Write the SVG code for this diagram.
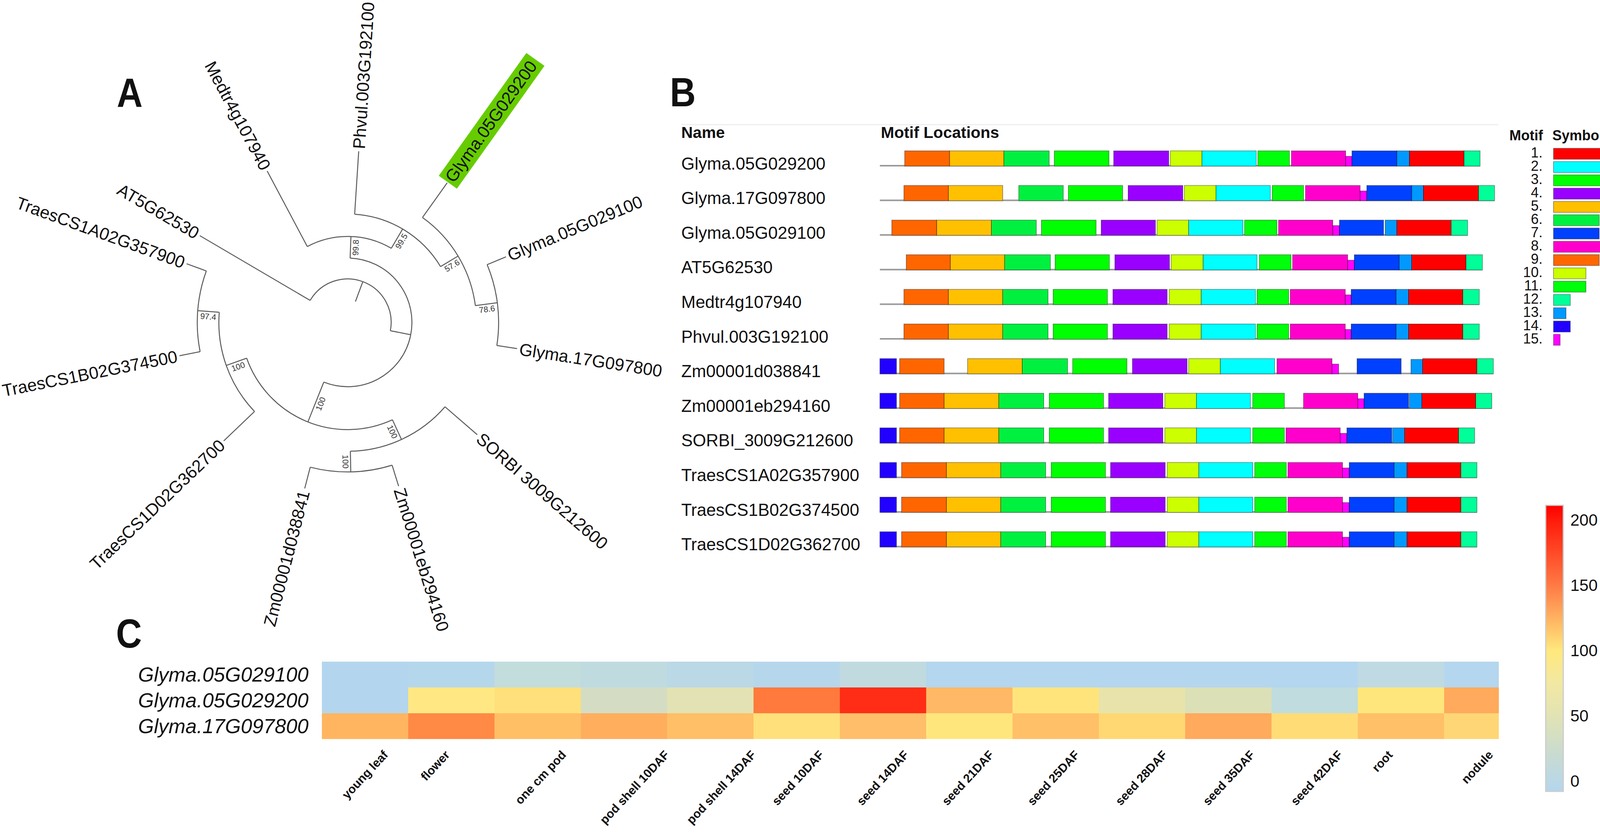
<svg xmlns="http://www.w3.org/2000/svg" width="4137" height="2134" viewBox="0 0 4137 2134">
<defs>
<linearGradient id="cbar" x1="0" y1="0" x2="0" y2="1">
<stop offset="0" stop-color="#FF0000"/>
<stop offset="0.05" stop-color="#FF1A0A"/>
<stop offset="0.28" stop-color="#FF7A45"/>
<stop offset="0.39" stop-color="#FFB060"/>
<stop offset="0.507" stop-color="#FFE87C"/>
<stop offset="0.62" stop-color="#F2E8A2"/>
<stop offset="0.735" stop-color="#E2E3B4"/>
<stop offset="0.85" stop-color="#CCDCCC"/>
<stop offset="1" stop-color="#B4D6EE"/>
</linearGradient>
</defs>
<style>
text{font-family:"Liberation Sans",Arial,sans-serif;fill:#111}
.panel{font-weight:bold;font-size:104px}
.br{fill:none;stroke:#5a5a5a;stroke-width:2.5}
.leaf{font-size:44px}
.sup{font-size:21px;fill:#333}
.nm{font-size:44px}
.hd{font-size:41px;font-weight:bold}
.bb{fill:#9a9a9a}
.mb rect{stroke:#000;stroke-opacity:0.35;stroke-width:2}
.m1{fill:#FF0000}.m2{fill:#00FFFF}.m3{fill:#00FF00}.m4{fill:#9900FF}.m5{fill:#FFC000}
.m6{fill:#00F040}.m7{fill:#0040FF}.m8{fill:#FF00CC}.m9{fill:#FF6600}.m10{fill:#CCFF00}
.m11{fill:#00FF0A}.m12{fill:#00FF99}.m13{fill:#0099FF}.m14{fill:#2200FF}.m15{fill:#FF00FF}
.lgn{font-size:36px;text-anchor:end}
.lgh{font-size:36px;font-weight:bold}
.rl{font-size:52px;font-style:italic;text-anchor:end}
.cl{font-size:31px;font-weight:bold;text-anchor:end}
.cb{font-size:42px}
</style>
<rect width="4137" height="2134" fill="#fff"/>

<!-- panel letters -->
<text class="panel" transform="translate(299,273) scale(0.88,1)">A</text>
<text class="panel" transform="translate(1715,272) scale(0.88,1)">B</text>
<text class="panel" transform="translate(297,1657) scale(0.88,1)">C</text>

<!-- ===== Panel A: tree ===== -->
<g id="tree-branches">
<path class="br" d="M909.9,771.6 L928.8,720.7"/>
<path class="br" d="M794.0,768.7 A111.3,111.3 0 0 1 999.3,846.2"/>
<path class="br" d="M794.0,768.7 L511.5,603.0"/>
<path class="br" d="M999.3,846.2 L1051.5,856.4"/>
<path class="br" d="M896.3,660.6 A164.5,164.5 0 1 1 828.9,977.7"/>
<path class="br" d="M896.3,660.6 L898.4,605.2"/>
<path class="br" d="M786.7,630.8 A220,220 0 0 1 1001.7,635.4"/>
<path class="br" d="M786.7,630.8 L684.0,437.6"/>
<path class="br" d="M1001.7,635.4 L1030.8,586.0"/>
<path class="br" d="M907.9,548.2 A277.4,277.4 0 0 1 1127.8,682.1"/>
<path class="br" d="M907.9,548.2 L918.3,387.1"/>
<path class="br" d="M1127.8,682.1 L1172.6,655.2"/>
<path class="br" d="M1081.5,556.6 A329.7,329.7 0 0 1 1216.9,782.0"/>
<path class="br" d="M1081.5,556.6 L1144.8,467.8"/>
<path class="br" d="M1216.9,782.0 L1273.2,774.6"/>
<path class="br" d="M1247.1,677.1 A386.5,386.5 0 0 1 1271.9,884.1"/>
<path class="br" d="M1247.1,677.1 L1295.4,657.1"/>
<path class="br" d="M1271.9,884.1 L1323.6,892.1"/>
<path class="br" d="M828.9,977.7 L788.2,1079.6"/>
<path class="br" d="M1004.6,1074.1 A274.2,274.2 0 0 1 631.5,916.5"/>
<path class="br" d="M631.5,916.5 L579.2,935.1"/>
<path class="br" d="M651.6,1052.8 A329.7,329.7 0 0 1 561.3,799.1"/>
<path class="br" d="M651.6,1052.8 L572.8,1128.2"/>
<path class="br" d="M561.3,799.1 L506.2,794.8"/>
<path class="br" d="M512.3,899.8 A385,385 0 0 1 528.2,693.3"/>
<path class="br" d="M512.3,899.8 L459.5,910.2"/>
<path class="br" d="M528.2,693.3 L477.7,674.9"/>
<path class="br" d="M1004.6,1074.1 L1027.8,1124.5"/>
<path class="br" d="M1139.2,1040.9 A329.7,329.7 0 0 1 896.9,1154.6"/>
<path class="br" d="M1139.2,1040.9 L1221.7,1112.3"/>
<path class="br" d="M896.9,1154.6 L898.0,1207.5"/>
<path class="br" d="M1003.8,1190.3 A382.6,382.6 0 0 1 794.2,1195.4"/>
<path class="br" d="M1003.8,1190.3 L1020.5,1244.0"/>
<path class="br" d="M794.2,1195.4 L780.1,1249.8"/>
</g>

<g id="tree-support">
<text class="sup" text-anchor="middle" dy="0.35em" transform="translate(890,825) rotate(-87.8) translate(192,13)">99.8</text>
<text class="sup" text-anchor="middle" dy="0.35em" transform="translate(890,825) rotate(-59.5) translate(249,13)">99.5</text>
<text class="sup" text-anchor="middle" dy="0.35em" transform="translate(890,825) rotate(-31) translate(304,13)">57.6</text>
<text class="sup" text-anchor="middle" dy="0.35em" transform="translate(890,825) rotate(-7.5) translate(358,13)">78.6</text>
<text class="sup" text-anchor="middle" dy="0.35em" transform="translate(890,825) rotate(111.8) translate(219,0) rotate(180) translate(0,13)">100</text>
<text class="sup" text-anchor="middle" dy="0.35em" transform="translate(890,825) rotate(160.5) translate(302,0) rotate(180) translate(0,13)">100</text>
<text class="sup" text-anchor="middle" dy="0.35em" transform="translate(890,825) rotate(184.5) translate(357,0) rotate(180) translate(0,13)">97.4</text>
<text class="sup" text-anchor="middle" dy="0.35em" transform="translate(890,825) rotate(65.3) translate(302,13)">100</text>
<text class="sup" text-anchor="middle" dy="0.35em" transform="translate(890,825) rotate(88.8) translate(356,13)">100</text>
</g>

<g id="leaf-Medtr4g107940"><text class="leaf" text-anchor="end" dy="0.35em" transform="translate(890,825) rotate(-118) translate(445,0) rotate(180)">Medtr4g107940</text></g>
<g id="leaf-Phvul"><text class="leaf" dy="0.35em" transform="translate(890,825) rotate(-86.3) translate(445,0)">Phvul.003G192100</text></g>
<g id="leaf-Glyma05G029200">
<rect x="441" y="-28" width="386" height="57" fill="#66CC00" transform="translate(890,825) rotate(-54.5)"/>
<text class="leaf" dy="0.35em" transform="translate(890,825) rotate(-54.5) translate(447,0)">Glyma.05G029200</text></g>
<g id="leaf-Glyma05G029100"><text class="leaf" dy="0.35em" transform="translate(890,825) rotate(-22.5) translate(445,0)">Glyma.05G029100</text></g>
<g id="leaf-Glyma17G097800"><text class="leaf" dy="0.35em" transform="translate(890,825) rotate(8.8) translate(445,0)">Glyma.17G097800</text></g>
<g id="leaf-SORBI"><text class="leaf" dy="0.35em" transform="translate(890,825) rotate(40.9) translate(445,0)">SORBI 3009G212600</text></g>
<g id="leaf-Zm00001eb294160"><text class="leaf" dy="0.35em" transform="translate(890,825) rotate(72.7) translate(445,0)">Zm00001eb294160</text></g>
<g id="leaf-Zm00001d038841"><text class="leaf" text-anchor="end" dy="0.35em" transform="translate(890,825) rotate(104.5) translate(445,0) rotate(180)">Zm00001d038841</text></g>
<g id="leaf-TraesCS1D02G362700"><text class="leaf" text-anchor="end" dy="0.35em" transform="translate(890,825) rotate(136.3) translate(445,0) rotate(180)">TraesCS1D02G362700</text></g>
<g id="leaf-TraesCS1B02G374500"><text class="leaf" text-anchor="end" dy="0.35em" transform="translate(890,825) rotate(168.8) translate(445,0) rotate(180)">TraesCS1B02G374500</text></g>
<g id="leaf-TraesCS1A02G357900"><text class="leaf" text-anchor="end" dy="0.35em" transform="translate(890,825) rotate(200) translate(445,0) rotate(180)">TraesCS1A02G357900</text></g>
<g id="leaf-AT5G62530"><text class="leaf" text-anchor="end" dy="0.35em" transform="translate(890,825) rotate(210.4) translate(445,0) rotate(180)">AT5G62530</text></g>

<!-- ===== Panel B: motifs ===== -->
<g id="motif-header">
<line x1="1744" y1="319" x2="3836" y2="319" stroke="#eeeeee" stroke-width="3"/>
<text class="hd" x="1744" y="353">Name</text>
<text class="hd" x="2255" y="353">Motif Locations</text>
</g>

<g id="row-Glyma05G029200" transform="translate(0,386)">
<text class="nm" x="1744" y="47.5">Glyma.05G029200</text>
<rect class="bb" x="2252.5" y="36" width="1536.5" height="4"/>
<g class="mb">
<rect class="m9" x="2316" y="0" width="115" height="39"/><rect class="m5" x="2431" y="0" width="139" height="39"/><rect class="m6" x="2570" y="0" width="116" height="39"/><rect class="m3" x="2699" y="0" width="140" height="39"/><rect class="m4" x="2851" y="0" width="141" height="39"/><rect class="m10" x="2996" y="0" width="81" height="39"/><rect class="m2" x="3077" y="0" width="139" height="39"/><rect class="m11" x="3220" y="0" width="81" height="39"/><rect class="m8" x="3306" y="0" width="139" height="39"/><rect class="m15" x="3445" y="14" width="16" height="25"/><rect class="m7" x="3461" y="0" width="115" height="39"/><rect class="m13" x="3576" y="0" width="32" height="39"/><rect class="m1" x="3608" y="0" width="140" height="39"/><rect class="m12" x="3748" y="0" width="41" height="39"/>
</g></g>

<g id="row-Glyma17G097800" transform="translate(0,474.6)">
<text class="nm" x="1744" y="47.5">Glyma.17G097800</text>
<rect class="bb" x="2252.5" y="36" width="1573.5" height="4"/>
<g class="mb">
<rect class="m9" x="2314" y="0" width="114" height="39"/><rect class="m5" x="2428" y="0" width="139" height="39"/><rect class="m6" x="2608" y="0" width="114" height="39"/><rect class="m3" x="2735" y="0" width="139" height="39"/><rect class="m4" x="2888" y="0" width="140" height="39"/><rect class="m10" x="3032" y="0" width="81" height="39"/><rect class="m2" x="3113" y="0" width="139" height="39"/><rect class="m11" x="3257" y="0" width="80" height="39"/><rect class="m8" x="3342" y="0" width="140" height="39"/><rect class="m15" x="3482" y="14" width="17" height="25"/><rect class="m7" x="3499" y="0" width="115" height="39"/><rect class="m13" x="3614" y="0" width="30" height="39"/><rect class="m1" x="3644" y="0" width="141" height="39"/><rect class="m12" x="3785" y="0" width="41" height="39"/>
</g></g>

<g id="row-Glyma05G029100" transform="translate(0,563.2)">
<text class="nm" x="1744" y="47.5">Glyma.05G029100</text>
<rect class="bb" x="2252.5" y="36" width="1504.5" height="4"/>
<g class="mb">
<rect class="m9" x="2283" y="0" width="115" height="39"/><rect class="m5" x="2398" y="0" width="140" height="39"/><rect class="m6" x="2538" y="0" width="115" height="39"/><rect class="m3" x="2666" y="0" width="140" height="39"/><rect class="m4" x="2819" y="0" width="139" height="39"/><rect class="m10" x="2962" y="0" width="81" height="39"/><rect class="m2" x="3043" y="0" width="139" height="39"/><rect class="m11" x="3186" y="0" width="83" height="39"/><rect class="m8" x="3273" y="0" width="139" height="39"/><rect class="m15" x="3412" y="14" width="17" height="25"/><rect class="m7" x="3429" y="0" width="113" height="39"/><rect class="m13" x="3546" y="0" width="30" height="39"/><rect class="m1" x="3576" y="0" width="139" height="39"/><rect class="m12" x="3715" y="0" width="42" height="39"/>
</g></g>

<g id="row-AT5G62530" transform="translate(0,651.8)">
<text class="nm" x="1744" y="47.5">AT5G62530</text>
<rect class="bb" x="2252.5" y="36" width="1542.5" height="4"/>
<g class="mb">
<rect class="m9" x="2320" y="0" width="113" height="39"/><rect class="m5" x="2433" y="0" width="139" height="39"/><rect class="m6" x="2572" y="0" width="117" height="39"/><rect class="m3" x="2701" y="0" width="139" height="39"/><rect class="m4" x="2854" y="0" width="140" height="39"/><rect class="m10" x="2998" y="0" width="82" height="39"/><rect class="m2" x="3080" y="0" width="138" height="39"/><rect class="m11" x="3224" y="0" width="81" height="39"/><rect class="m8" x="3309" y="0" width="141" height="39"/><rect class="m15" x="3450" y="14" width="17" height="25"/><rect class="m7" x="3467" y="0" width="115" height="39"/><rect class="m13" x="3582" y="0" width="32" height="39"/><rect class="m1" x="3614" y="0" width="139" height="39"/><rect class="m12" x="3753" y="0" width="42" height="39"/>
</g></g>

<g id="row-Medtr4g107940" transform="translate(0,740.4)">
<text class="nm" x="1744" y="47.5">Medtr4g107940</text>
<rect class="bb" x="2252.5" y="36" width="1534.5" height="4"/>
<g class="mb">
<rect class="m9" x="2314" y="0" width="114" height="39"/><rect class="m5" x="2428" y="0" width="139" height="39"/><rect class="m6" x="2567" y="0" width="116" height="39"/><rect class="m3" x="2696" y="0" width="139" height="39"/><rect class="m4" x="2849" y="0" width="139" height="39"/><rect class="m10" x="2993" y="0" width="82" height="39"/><rect class="m2" x="3075" y="0" width="139" height="39"/><rect class="m11" x="3218" y="0" width="81" height="39"/><rect class="m8" x="3303" y="0" width="141" height="39"/><rect class="m15" x="3444" y="14" width="15" height="25"/><rect class="m7" x="3459" y="0" width="115" height="39"/><rect class="m13" x="3574" y="0" width="32" height="39"/><rect class="m1" x="3606" y="0" width="139" height="39"/><rect class="m12" x="3745" y="0" width="42" height="39"/>
</g></g>

<g id="row-Phvul003G192100" transform="translate(0,829)">
<text class="nm" x="1744" y="47.5">Phvul.003G192100</text>
<rect class="bb" x="2252.5" y="36" width="1534.5" height="4"/>
<g class="mb">
<rect class="m9" x="2314" y="0" width="114" height="39"/><rect class="m5" x="2428" y="0" width="139" height="39"/><rect class="m6" x="2567" y="0" width="116" height="39"/><rect class="m3" x="2696" y="0" width="139" height="39"/><rect class="m4" x="2849" y="0" width="139" height="39"/><rect class="m10" x="2993" y="0" width="82" height="39"/><rect class="m2" x="3075" y="0" width="139" height="39"/><rect class="m11" x="3218" y="0" width="81" height="39"/><rect class="m8" x="3303" y="0" width="141" height="39"/><rect class="m15" x="3444" y="14" width="15" height="25"/><rect class="m7" x="3459" y="0" width="115" height="39"/><rect class="m13" x="3574" y="0" width="32" height="39"/><rect class="m1" x="3606" y="0" width="139" height="39"/><rect class="m12" x="3745" y="0" width="42" height="39"/>
</g></g>

<g id="row-Zm00001d038841" transform="translate(0,917.6)">
<text class="nm" x="1744" y="47.5">Zm00001d038841</text>
<rect class="bb" x="2252.5" y="36" width="1570.5" height="4"/>
<g class="mb">
<rect class="m14" x="2252.5" y="0" width="42.5" height="39"/><rect class="m9" x="2303" y="0" width="114" height="39"/><rect class="m5" x="2477" y="0" width="140" height="39"/><rect class="m6" x="2617" y="0" width="116" height="39"/><rect class="m3" x="2746" y="0" width="139" height="39"/><rect class="m4" x="2899" y="0" width="140" height="39"/><rect class="m10" x="3043" y="0" width="81" height="39"/><rect class="m2" x="3124" y="0" width="139" height="39"/><rect class="m8" x="3269" y="0" width="141" height="39"/><rect class="m15" x="3410" y="14" width="17" height="25"/><rect class="m7" x="3474" y="0" width="113" height="39"/><rect class="m13" x="3612" y="2" width="30" height="37"/><rect class="m1" x="3642" y="0" width="139" height="39"/><rect class="m12" x="3781" y="0" width="42" height="39"/>
</g></g>

<g id="row-Zm00001eb294160" transform="translate(0,1006.2)">
<text class="nm" x="1744" y="47.5">Zm00001eb294160</text>
<rect class="bb" x="2252.5" y="36" width="1566.5" height="4"/>
<g class="mb">
<rect class="m14" x="2252.5" y="0" width="42.5" height="39"/><rect class="m9" x="2303" y="0" width="114" height="39"/><rect class="m5" x="2417" y="0" width="140" height="39"/><rect class="m6" x="2557" y="0" width="115" height="39"/><rect class="m3" x="2686" y="0" width="139" height="39"/><rect class="m4" x="2838" y="0" width="139" height="39"/><rect class="m10" x="2982" y="0" width="81" height="39"/><rect class="m2" x="3063" y="0" width="138" height="39"/><rect class="m11" x="3207" y="0" width="81" height="39"/><rect class="m8" x="3337" y="0" width="139" height="39"/><rect class="m15" x="3476" y="14" width="16" height="25"/><rect class="m7" x="3492" y="0" width="114" height="39"/><rect class="m13" x="3608" y="0" width="32" height="39"/><rect class="m1" x="3640" y="0" width="138" height="39"/><rect class="m12" x="3778" y="0" width="41" height="39"/>
</g></g>

<g id="row-SORBI_3009G212600" transform="translate(0,1094.8)">
<text class="nm" x="1744" y="47.5">SORBI_3009G212600</text>
<rect class="bb" x="2252.5" y="36" width="1522.5" height="4"/>
<g class="mb">
<rect class="m14" x="2252.5" y="0" width="42.5" height="39"/><rect class="m9" x="2303" y="0" width="114" height="39"/><rect class="m5" x="2417" y="0" width="140" height="39"/><rect class="m6" x="2557" y="0" width="115" height="39"/><rect class="m3" x="2686" y="0" width="139" height="39"/><rect class="m4" x="2838" y="0" width="139" height="39"/><rect class="m10" x="2982" y="0" width="81" height="39"/><rect class="m2" x="3063" y="0" width="138" height="39"/><rect class="m11" x="3207" y="0" width="81" height="39"/><rect class="m8" x="3292" y="0" width="139" height="39"/><rect class="m15" x="3431" y="14" width="17" height="25"/><rect class="m7" x="3448" y="0" width="115" height="39"/><rect class="m13" x="3565" y="0" width="31" height="39"/><rect class="m1" x="3596" y="0" width="138" height="39"/><rect class="m12" x="3734" y="0" width="41" height="39"/>
</g></g>

<g id="row-TraesCS1A02G357900" transform="translate(0,1183.4)">
<text class="nm" x="1744" y="47.5">TraesCS1A02G357900</text>
<rect class="bb" x="2252.5" y="36" width="1528.5" height="4"/>
<g class="mb">
<rect class="m14" x="2252.5" y="0" width="42.5" height="39"/><rect class="m9" x="2308" y="0" width="115" height="39"/><rect class="m5" x="2423" y="0" width="139" height="39"/><rect class="m6" x="2562" y="0" width="115" height="39"/><rect class="m3" x="2691" y="0" width="139" height="39"/><rect class="m4" x="2843" y="0" width="140" height="39"/><rect class="m10" x="2988" y="0" width="81" height="39"/><rect class="m2" x="3069" y="0" width="138" height="39"/><rect class="m11" x="3212" y="0" width="81" height="39"/><rect class="m8" x="3297" y="0" width="140" height="39"/><rect class="m15" x="3437" y="14" width="17" height="25"/><rect class="m7" x="3454" y="0" width="115" height="39"/><rect class="m13" x="3569" y="0" width="33" height="39"/><rect class="m1" x="3602" y="0" width="138" height="39"/><rect class="m12" x="3740" y="0" width="41" height="39"/>
</g></g>

<g id="row-TraesCS1B02G374500" transform="translate(0,1272)">
<text class="nm" x="1744" y="47.5">TraesCS1B02G374500</text>
<rect class="bb" x="2252.5" y="36" width="1528.5" height="4"/>
<g class="mb">
<rect class="m14" x="2252.5" y="0" width="42.5" height="39"/><rect class="m9" x="2308" y="0" width="115" height="39"/><rect class="m5" x="2423" y="0" width="139" height="39"/><rect class="m6" x="2562" y="0" width="115" height="39"/><rect class="m3" x="2691" y="0" width="139" height="39"/><rect class="m4" x="2843" y="0" width="140" height="39"/><rect class="m10" x="2988" y="0" width="81" height="39"/><rect class="m2" x="3069" y="0" width="138" height="39"/><rect class="m11" x="3212" y="0" width="81" height="39"/><rect class="m8" x="3297" y="0" width="140" height="39"/><rect class="m15" x="3437" y="14" width="17" height="25"/><rect class="m7" x="3454" y="0" width="115" height="39"/><rect class="m13" x="3569" y="0" width="33" height="39"/><rect class="m1" x="3602" y="0" width="138" height="39"/><rect class="m12" x="3740" y="0" width="41" height="39"/>
</g></g>

<g id="row-TraesCS1D02G362700" transform="translate(0,1360.6)">
<text class="nm" x="1744" y="47.5">TraesCS1D02G362700</text>
<rect class="bb" x="2252.5" y="36" width="1528.5" height="4"/>
<g class="mb">
<rect class="m14" x="2252.5" y="0" width="42.5" height="39"/><rect class="m9" x="2308" y="0" width="115" height="39"/><rect class="m5" x="2423" y="0" width="139" height="39"/><rect class="m6" x="2562" y="0" width="115" height="39"/><rect class="m3" x="2691" y="0" width="139" height="39"/><rect class="m4" x="2843" y="0" width="140" height="39"/><rect class="m10" x="2988" y="0" width="81" height="39"/><rect class="m2" x="3069" y="0" width="138" height="39"/><rect class="m11" x="3212" y="0" width="81" height="39"/><rect class="m8" x="3297" y="0" width="140" height="39"/><rect class="m15" x="3437" y="14" width="17" height="25"/><rect class="m7" x="3454" y="0" width="115" height="39"/><rect class="m13" x="3569" y="0" width="33" height="39"/><rect class="m1" x="3602" y="0" width="138" height="39"/><rect class="m12" x="3740" y="0" width="41" height="39"/>
</g></g>

<!-- legend -->
<g id="motif-legend">
<text class="lgh" x="3864" y="359">Motif</text>
<text class="lgh" x="3974" y="359">Symbol</text>
<g class="mb">
<rect class="m1" x="3977" y="379.5" width="142" height="28"/>
<rect class="m2" x="3977" y="413.5" width="142" height="28"/>
<rect class="m3" x="3977" y="447.5" width="142" height="28"/>
<rect class="m4" x="3977" y="481.5" width="142" height="28"/>
<rect class="m5" x="3977" y="515.5" width="142" height="28"/>
<rect class="m6" x="3977" y="549.5" width="117" height="28"/>
<rect class="m7" x="3977" y="583.5" width="117" height="28"/>
<rect class="m8" x="3977" y="617.5" width="142" height="28"/>
<rect class="m9" x="3977" y="651.5" width="117" height="28"/>
<rect class="m10" x="3977" y="685.5" width="83" height="28"/>
<rect class="m11" x="3977" y="719.5" width="83" height="28"/>
<rect class="m12" x="3977" y="753.5" width="43" height="28"/>
<rect class="m13" x="3977" y="787.5" width="32" height="28"/>
<rect class="m14" x="3977" y="821.5" width="43" height="28"/>
<rect class="m15" x="3977" y="855.5" width="17" height="28"/>
</g>
<text class="lgn" x="3949" y="402.5">1.</text>
<text class="lgn" x="3949" y="436.5">2.</text>
<text class="lgn" x="3949" y="470.5">3.</text>
<text class="lgn" x="3949" y="504.5">4.</text>
<text class="lgn" x="3949" y="538.5">5.</text>
<text class="lgn" x="3949" y="572.5">6.</text>
<text class="lgn" x="3949" y="606.5">7.</text>
<text class="lgn" x="3949" y="640.5">8.</text>
<text class="lgn" x="3949" y="674.5">9.</text>
<text class="lgn" x="3949" y="708.5">10.</text>
<text class="lgn" x="3949" y="742.5">11.</text>
<text class="lgn" x="3949" y="776.5">12.</text>
<text class="lgn" x="3949" y="810.5">13.</text>
<text class="lgn" x="3949" y="844.5">14.</text>
<text class="lgn" x="3949" y="878.5">15.</text>
</g>

<!-- ===== Panel C: heatmap ===== -->
<g id="heatmap" shape-rendering="crispEdges">
<g transform="translate(0,1693)">
<rect x="823.6" width="221.5" height="66.5" fill="#B3D6EE"/><rect x="1044.6" width="221.5" height="66.5" fill="#B5D7EC"/><rect x="1265.6" width="221.5" height="66.5" fill="#C3DCDC"/><rect x="1486.6" width="221.5" height="66.5" fill="#BFDBE0"/><rect x="1707.6" width="221.5" height="66.5" fill="#BAD8E6"/><rect x="1928.6" width="221.5" height="66.5" fill="#B6D6EC"/><rect x="2149.6" width="221.5" height="66.5" fill="#C0DAE0"/><rect x="2370.6" width="221.5" height="66.5" fill="#B4D6EE"/><rect x="2591.6" width="221.5" height="66.5" fill="#B4D6EE"/><rect x="2812.6" width="221.5" height="66.5" fill="#B4D6EE"/><rect x="3033.6" width="221.5" height="66.5" fill="#B4D6EE"/><rect x="3254.6" width="221.5" height="66.5" fill="#B4D6EE"/><rect x="3475.6" width="221.5" height="66.5" fill="#BFDAE2"/><rect x="3696.6" width="140.4" height="66.5" fill="#B4D6EE"/>
</g>
<g transform="translate(0,1759)">
<rect x="823.6" width="221.5" height="66.5" fill="#B3D6EE"/><rect x="1044.6" width="221.5" height="66.5" fill="#FFE884"/><rect x="1265.6" width="221.5" height="66.5" fill="#FFE07A"/><rect x="1486.6" width="221.5" height="66.5" fill="#D4DDC4"/><rect x="1707.6" width="221.5" height="66.5" fill="#E3E2B4"/><rect x="1928.6" width="221.5" height="66.5" fill="#FF7A3C"/><rect x="2149.6" width="221.5" height="66.5" fill="#FF2D16"/><rect x="2370.6" width="221.5" height="66.5" fill="#FFB865"/><rect x="2591.6" width="221.5" height="66.5" fill="#FFE47C"/><rect x="2812.6" width="221.5" height="66.5" fill="#E8E3AA"/><rect x="3033.6" width="221.5" height="66.5" fill="#DCE0B6"/><rect x="3254.6" width="221.5" height="66.5" fill="#C0DCDE"/><rect x="3475.6" width="221.5" height="66.5" fill="#FFE67C"/><rect x="3696.6" width="140.4" height="66.5" fill="#FFAA5C"/>
</g>
<g transform="translate(0,1825)">
<rect x="823.6" width="221.5" height="66" fill="#FFB560"/><rect x="1044.6" width="221.5" height="66" fill="#FF8A45"/><rect x="1265.6" width="221.5" height="66" fill="#FFBF65"/><rect x="1486.6" width="221.5" height="66" fill="#FFAE5E"/><rect x="1707.6" width="221.5" height="66" fill="#FFBF66"/><rect x="1928.6" width="221.5" height="66" fill="#FFE07A"/><rect x="2149.6" width="221.5" height="66" fill="#FFBE6A"/><rect x="2370.6" width="221.5" height="66" fill="#FFE67C"/><rect x="2591.6" width="221.5" height="66" fill="#FFC068"/><rect x="2812.6" width="221.5" height="66" fill="#FFD874"/><rect x="3033.6" width="221.5" height="66" fill="#FFAA5C"/><rect x="3254.6" width="221.5" height="66" fill="#FFDC76"/><rect x="3475.6" width="221.5" height="66" fill="#FFC068"/><rect x="3696.6" width="140.4" height="66" fill="#FFD676"/>
</g>
</g>

<g id="heatmap-rows">
<text class="rl" x="790" y="1744">Glyma.05G029100</text>
<text class="rl" x="790" y="1810">Glyma.05G029200</text>
<text class="rl" x="790" y="1876">Glyma.17G097800</text>
</g>

<g id="heatmap-cols">
<text class="cl" transform="translate(995,1933) rotate(-47)">young leaf</text>
<text class="cl" transform="translate(1153,1933) rotate(-47)">flower</text>
<text class="cl" transform="translate(1451,1933) rotate(-47)">one cm pod</text>
<text class="cl" transform="translate(1715,1933) rotate(-47)">pod shell 10DAF</text>
<text class="cl" transform="translate(1937,1933) rotate(-47)">pod shell 14DAF</text>
<text class="cl" transform="translate(2111,1933) rotate(-47)">seed 10DAF</text>
<text class="cl" transform="translate(2328,1933) rotate(-47)">seed 14DAF</text>
<text class="cl" transform="translate(2546,1933) rotate(-47)">seed 21DAF</text>
<text class="cl" transform="translate(2765,1933) rotate(-47)">seed 25DAF</text>
<text class="cl" transform="translate(2990,1933) rotate(-47)">seed 28DAF</text>
<text class="cl" transform="translate(3214,1933) rotate(-47)">seed 35DAF</text>
<text class="cl" transform="translate(3439,1933) rotate(-47)">seed 42DAF</text>
<text class="cl" transform="translate(3567,1933) rotate(-47)">root</text>
<text class="cl" transform="translate(3824,1933) rotate(-47)">nodule</text>
</g>

<g id="colorbar">
<rect x="3957" y="1293" width="45" height="732" fill="url(#cbar)" stroke="#cccccc" stroke-width="3"/>
<text class="cb" x="4020" y="1345">200</text>
<text class="cb" x="4020" y="1512">150</text>
<text class="cb" x="4020" y="1679">100</text>
<text class="cb" x="4020" y="1846">50</text>
<text class="cb" x="4020" y="2013">0</text>
</g>
</svg>
